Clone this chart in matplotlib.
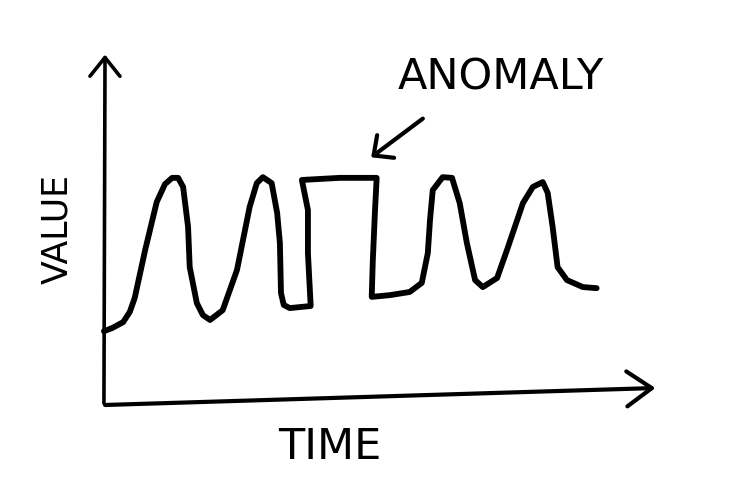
import matplotlib
matplotlib.use("Agg")
import matplotlib.pyplot as plt
import numpy as np

# sketch of a periodic signal with one square "anomaly" pulse
time = [0, 1.5, 3.5, 4.7, 5.6, 7.5, 9.6, 11.1, 12.4, 13.5, 14.4, 15.3, 15.6,
        16.9, 18.0, 19.3, 21.6, 24.2, 26.5, 27.8, 28.9, 30.5, 31.5, 32.0,
        32.2, 32.7, 33.8, 37.6, 37.1, 37.1, 36.0, 42.9, 49.6, 49.3, 48.9,
        48.7, 52.0, 55.6, 57.8, 58.9, 59.3, 59.8, 61.6, 63.3, 64.7, 66.0,
        67.5, 68.9, 71.5, 73.3, 76.2, 78.0, 79.8, 80.7, 81.6, 82.5, 84.2,
        87.1, 89.6]
value = [21.1, 22.0, 23.7, 26.6, 30.6, 44.3, 58.0, 63.1, 64.9, 64.9, 62.3,
         50.9, 39.4, 29.1, 25.7, 24.3, 27.1, 38.6, 56.6, 63.4, 65.1, 63.4,
         54.9, 46.3, 32.0, 28.6, 27.7, 28.3, 43.4, 55.7, 64.3, 64.9, 64.9,
         55.7, 41.4, 30.9, 31.4, 32.3, 34.9, 43.4, 52.9, 61.4, 65.1, 64.9,
         57.7, 46.3, 35.7, 33.7, 36.3, 44.3, 57.7, 62.3, 63.7, 60.6, 50.9,
         39.4, 35.7, 33.7, 33.4]

x_label = "TIME"
y_label = "VALUE"
note = "ANOMALY"

fig = plt.figure(figsize=(7.33, 4.94), dpi=100)
ax = fig.add_axes([0, 0, 1, 1])
ax.set_xlim(-18.9, 114.4)
ax.set_ylim(-25.4, 115.7)
ax.axis("off")

ink = "black"

# hand drawn axes with open arrow heads
ax.annotate("", xy=(0.2, 100.9), xytext=(0, -0.3),
            arrowprops=dict(arrowstyle="->, head_length=0.45, head_width=0.36",
                            mutation_scale=30, lw=2.6, color=ink,
                            capstyle="round", joinstyle="round"))
ax.annotate("", xy=(100.8, 4.9), xytext=(-0.3, 0),
            arrowprops=dict(arrowstyle="->, head_length=0.6, head_width=0.42",
                            mutation_scale=30, lw=3.0, color=ink,
                            capstyle="round", joinstyle="round"))

ax.plot(time, value, color=ink, lw=4.2,
        solid_capstyle="round", solid_joinstyle="round")

# anomaly callout
ax.annotate("", xy=(48.2, 70.3), xytext=(58.4, 82.3),
            arrowprops=dict(arrowstyle="->, head_length=0.36, head_width=0.34",
                            mutation_scale=30, lw=3.0, color=ink))
ax.text(72.2, 93.7, note, fontsize=31, ha="center", va="center", color=ink)

ax.text(41.1, -12.0, x_label, fontsize=31, ha="center", va="center", color=ink)
ax.text(-8.5, 50.3, y_label, fontsize=25, ha="center", va="center",
        rotation=90, color=ink)

fig.savefig("out.png", dpi=100, facecolor="white")
